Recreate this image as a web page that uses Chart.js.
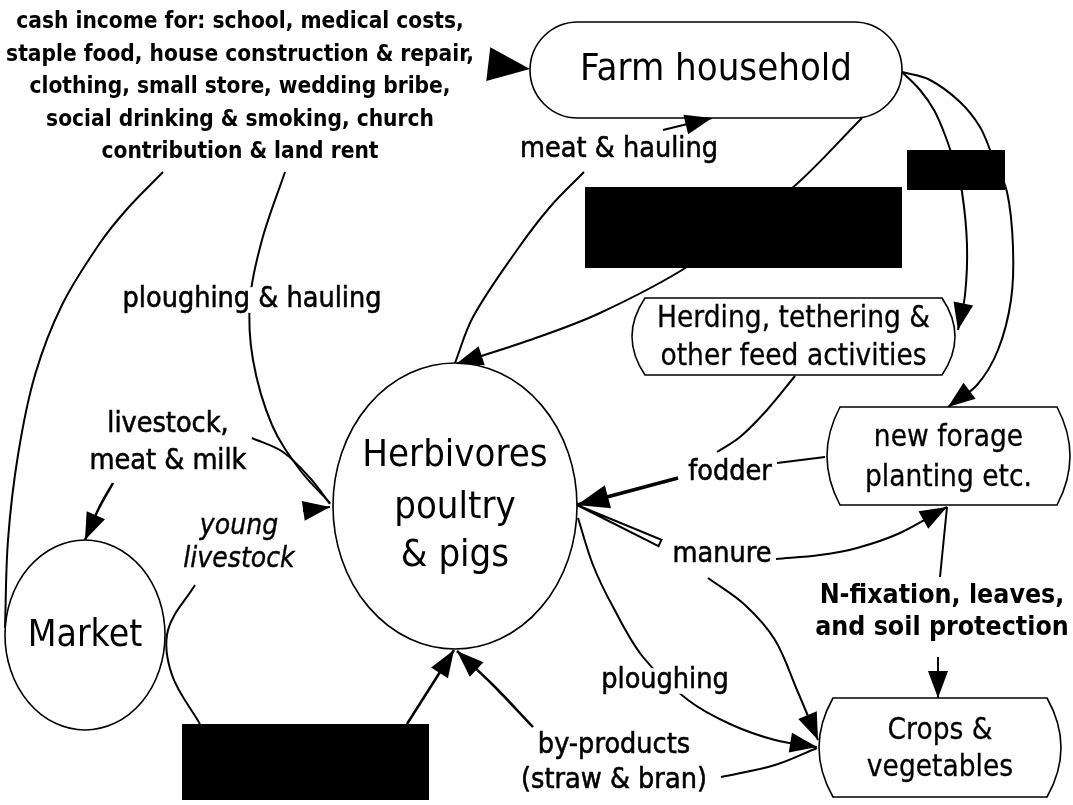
<!DOCTYPE html>
<html>
<head>
<meta charset="utf-8">
<script src="https://cdn.jsdelivr.net/npm/chart.js@4/dist/chart.umd.min.js"></script>
<style>
html,body{margin:0;padding:0;background:#fff;}
#wrap{width:1073px;height:805px;position:relative;}
</style>
</head>
<body>
<div id="wrap"><canvas id="c"></canvas></div>
<script>
// ---------- text content ----------
const headerLines = [
  'cash income for: school, medical costs,',
  'staple food, house construction & repair,',
  'clothing, small store, wedding bribe,',
  'social drinking & smoking, church',
  'contribution & land rent'
];
const headerX = [240];
const headerY = [22, 55, 87, 120, 152];

// ---------- nodes (diagram units) ----------
const nodeText  = [['Farm household'], ['Herbivores','poultry','& pigs'], ['Market'],
                   ['Herding, tethering &','other feed activities'], ['new forage','planting etc.'], ['Crops &','vegetables']];
const nodeShape = ['pill','ellipse','ellipse','bulge','bulge','bulge'];
const nodeX     = [716, 455, 85, 793.5, 948.5, 940];
const nodeY     = [70, 506, 635, 336.5, 456, 747.5];
const nodeHalfW = [186, 122, 80, 148.5, 108.5, 107];
const nodeHalfH = [48, 143, 95, 38.5, 49, 49.5];
const nodeBulge = [0, 0, 0, 13, 13, 14];
const nodeTextY = [[70], [456,508,556], [636], [319,357], [438,478], [731,768]];
const nodeFont  = ['big','big','market','box','box','box'];

// ---------- flow labels ----------
const flowLabelText = [['ploughing & hauling'], ['livestock,','meat & milk'], ['young','livestock'], ['meat & hauling'],
                       ['fodder'], ['manure'], ['N-fixation, leaves,','and soil protection'], ['ploughing'], ['by-products','(straw & bran)']];
const flowLabelX = [252, 168, 239, 619, 730, 722, 942, 665, 614];
const flowLabelY = [[300], [425,462], [527,560], [150], [473], [555], [596,628], [681], [746,781]];
const flowLabelFont = ['flow','flow','italic','flow','flow','flow','flowBold','flow','flow'];

// ---------- connectors ----------
const linkX = [
  [163,128,100,62,35,18,8,5],
  [285,262,250,253,272,300,330],
  [252,283,310,330],
  [113,99,85],
  [303,330],
  [195,168,172,200],
  [407,454],
  [533,493,457],
  [455,473,517,550,584],
  [663,712],
  [862,790,690,600,530,456],
  [488,530],
  [902,920,934,945,955,962,967,965,958],
  [902,930,960,980,992,1007,1013,1011,998,977,948],
  [795,767,740,717],
  [777,825],
  [678,577],
  [660,577],
  [776,820,857,900,947],
  [708,745,775,797,818],
  [578,593,612,643,688,730,775,817],
  [721,775,817],
  [947,940],
  [938,938]
];
const linkY = [
  [172,208,243,305,375,455,540,628],
  [172,240,300,360,425,470,503],
  [438,452,478,504],
  [483,508,540],
  [511,507],
  [585,630,675,724],
  [724,650],
  [727,685,651],
  [363,317,250,207,172],
  [130,118],
  [118,190,265,313,340,364],
  [64,69],
  [72,90,110,135,165,192,245,295,330],
  [72,80,102,127,155,192,247,300,350,385,407],
  [376,410,437,452],
  [463,457],
  [478,505],
  [543,505],
  [559,555,548,533,507],
  [578,605,640,690,740],
  [518,565,605,657,700,724,740,747],
  [777,765,748],
  [507,577],
  [657,698]
];
const linkHead = ['none','none','none','solid','solid','none','solid','solid','none','solid','solid','big',
                  'solid','solid','none','none','fodder','wedge','solid','solid','solid','none','none','solid'];
const linkWidth = [2,2,2,2.5,2,2,2.5,2.5,2,2,2,0,2,2,2,2,3.5,0,2,2,2,2,2,2];

// ---------- masked areas ----------
const maskX = [585, 907, 182];
const maskY = [187, 150, 724];
const maskW = [317, 98, 247];
const maskH = [81, 40, 76];

// ---------- styles ----------
const FAMILY = '"DejaVu Sans", "Verdana", sans-serif';
const SX = 0.9;
const fonts = {
  header:  {f: 'bold 22.5px ' + FAMILY, s: 0},
  big:     {f: '38px ' + FAMILY, s: 0},
  market:  {f: '37px ' + FAMILY, s: 0},
  box:     {f: '29.5px ' + FAMILY, s: 0.3},
  flow:    {f: '28.5px ' + FAMILY, s: 0.6},
  flowBold:{f: 'bold 26.5px ' + FAMILY, s: 0},
  italic:  {f: 'italic 28px ' + FAMILY, s: 0.4}
};
const heads = {
  solid:  {L: 27, W: 10},
  big:    {L: 42, W: 17},
  fodder: {L: 32, W: 12}
};

const datasets = linkX.map((xs, i) => ({
  data: xs.map((x, j) => ({x: x, y: linkY[i][j]})),
  showLine: true,
  borderColor: '#000',
  borderWidth: linkWidth[i],
  pointRadius: 0,
  pointHoverRadius: 0,
  tension: 0.35,
  fill: false
}));

const diagramPlugin = {
  id: 'diagram',
  afterDatasetsDraw(chart) {
    const ctx = chart.ctx;
    const xs = chart.scales.x, ys = chart.scales.y;
    const px = v => xs.getPixelForValue(v);
    const py = v => ys.getPixelForValue(v);
    const sx = Math.abs(px(1) - px(0)), sy = Math.abs(py(1) - py(0));

    function text(str, x, y, style, bg) {
      ctx.save();
      ctx.font = style.f;
      ctx.textAlign = 'center';
      ctx.textBaseline = 'middle';
      const w = ctx.measureText(str).width * SX;
      const size = parseFloat(style.f.match(/([\d.]+)px/)[1]);
      if (bg) {
        ctx.fillStyle = '#fff';
        ctx.fillRect(x - w / 2 - 3, y - size * 0.45, w + 6, size * 0.9);
      }
      ctx.translate(x, y);
      ctx.scale(SX, 1);
      ctx.fillStyle = '#000';
      ctx.fillText(str, 0, 0);
      if (style.s) {
        ctx.lineWidth = style.s;
        ctx.strokeStyle = '#000';
        ctx.strokeText(str, 0, 0);
      }
      ctx.restore();
    }

    // nodes
    nodeShape.forEach((shape, i) => {
      const cx = px(nodeX[i]), cy = py(nodeY[i]);
      const hw = nodeHalfW[i] * sx, hh = nodeHalfH[i] * sy, b = nodeBulge[i] * sx;
      ctx.save();
      ctx.beginPath();
      if (shape === 'ellipse') {
        ctx.ellipse(cx, cy, hw, hh, 0, 0, Math.PI * 2);
      } else if (shape === 'pill') {
        const r = hh;
        ctx.moveTo(cx - hw + r, cy - hh);
        ctx.lineTo(cx + hw - r, cy - hh);
        ctx.arc(cx + hw - r, cy, r, -Math.PI / 2, Math.PI / 2);
        ctx.lineTo(cx - hw + r, cy + hh);
        ctx.arc(cx - hw + r, cy, r, Math.PI / 2, Math.PI * 1.5);
      } else {
        ctx.moveTo(cx - hw, cy - hh);
        ctx.lineTo(cx + hw, cy - hh);
        ctx.quadraticCurveTo(cx + hw + 2 * b, cy, cx + hw, cy + hh);
        ctx.lineTo(cx - hw, cy + hh);
        ctx.quadraticCurveTo(cx - hw - 2 * b, cy, cx - hw, cy - hh);
      }
      ctx.closePath();
      ctx.fillStyle = '#fff';
      ctx.fill();
      ctx.lineWidth = 1.6;
      ctx.strokeStyle = '#000';
      ctx.stroke();
      ctx.restore();
      nodeText[i].forEach((t, k) => text(t, cx, py(nodeTextY[i][k]), fonts[nodeFont[i]], false));
    });

    // arrow heads
    chart.data.datasets.forEach((ds, i) => {
      const kind = linkHead[i];
      if (kind === 'none') return;
      const pts = chart.getDatasetMeta(i).data;
      const a = pts[pts.length - 2], b = pts[pts.length - 1];
      const dx = b.x - a.x, dy = b.y - a.y;
      const len = Math.hypot(dx, dy) || 1;
      const ux = dx / len, uy = dy / len;
      const nx = -uy, ny = ux;
      ctx.save();
      ctx.beginPath();
      if (kind === 'wedge') {
        const w = 3.5;
        ctx.moveTo(b.x, b.y);
        ctx.lineTo(a.x + nx * w, a.y + ny * w);
        ctx.lineTo(a.x - nx * w, a.y - ny * w);
        ctx.closePath();
        ctx.fillStyle = '#fff';
        ctx.fill();
        ctx.lineWidth = 2;
        ctx.strokeStyle = '#000';
        ctx.stroke();
      } else {
        const h = heads[kind];
        const bx = b.x - ux * h.L, by = b.y - uy * h.L;
        ctx.moveTo(b.x, b.y);
        ctx.lineTo(bx + nx * h.W, by + ny * h.W);
        ctx.lineTo(bx - nx * h.W, by - ny * h.W);
        ctx.closePath();
        ctx.fillStyle = '#000';
        ctx.fill();
      }
      ctx.restore();
    });

    // header text
    headerLines.forEach((t, k) => text(t, px(headerX[0]), py(headerY[k]), fonts.header, false));

    // flow labels
    flowLabelText.forEach((lines, i) => {
      lines.forEach((t, k) => text(t, px(flowLabelX[i]), py(flowLabelY[i][k]), fonts[flowLabelFont[i]], true));
    });

    // masked (blacked-out) areas
    ctx.save();
    ctx.fillStyle = '#000';
    maskX.forEach((x, i) => {
      const x0 = px(x), y0 = py(maskY[i]);
      ctx.fillRect(x0, y0, px(x + maskW[i]) - x0, py(maskY[i] + maskH[i]) - y0);
    });
    ctx.restore();
  }
};

new Chart(document.getElementById('c'), {
  type: 'scatter',
  data: { datasets: datasets },
  options: {
    responsive: true,
    maintainAspectRatio: false,
    animation: false,
    events: [],
    layout: { padding: 0 },
    plugins: { legend: { display: false }, tooltip: { enabled: false } },
    scales: {
      x: { type: 'linear', min: 0, max: 1073, display: false },
      y: { type: 'linear', min: 0, max: 805, reverse: true, display: false }
    }
  },
  plugins: [diagramPlugin]
});
</script>
</body>
</html>
